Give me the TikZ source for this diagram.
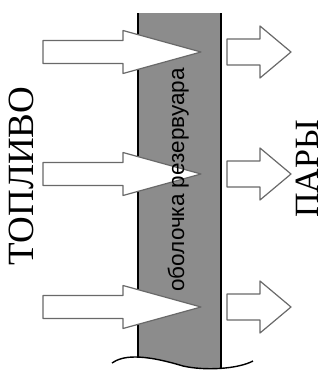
\documentclass[tikz,border=0pt]{standalone}
\usepackage{fontspec}
\setmainfont{Liberation Serif}
\setsansfont{Liberation Sans}
\usetikzlibrary{positioning}
\definecolor{wallgray}{RGB}{140,140,140}
\definecolor{arrowgray}{RGB}{105,105,105}

\begin{document}
\begin{tikzpicture}[x=1pt, y=-1pt, line join=round,
  wall/.style={fill=wallgray},
  wallline/.style={line width=1.4pt, black},
  bigarrow/.style={draw=arrowgray, fill=white, line width=1.2pt},
  smallarrow/.style={draw=arrowgray, fill=white, line width=1.2pt},
  label/.style={rotate=90, anchor=base, inner sep=0pt}]
\useasboundingbox (0,0) rectangle (327,370);
%
\begin{scope}
\clip (100,0) -- (100,363) -- (112,363) .. controls (122,356) and (140,353) .. (183,366)
  .. controls (205,371) and (238,369) .. (253,361) -- (260,361) -- (260,0) -- cycle;
\fill[wall] (138,13) rectangle (221,372);
\draw[wallline] (138,13) -- (138,372);
\draw[wallline] (221,13) -- (221,372);
\end{scope}
\draw[line width=1.4pt] (112,363) .. controls (122,356) and (140,353) .. (183,366)
  .. controls (205,371) and (238,369) .. (253,361);
%
\foreach \y in {52,174,307} {
  \draw[bigarrow] (43,\y-11.5) -- (123,\y-11.5) -- (123,\y-21.5) -- (201,\y)
    -- (123,\y+21.5) -- (123,\y+11.5) -- (43,\y+11.5) -- cycle;
  \draw[smallarrow] (227,\y-13) -- (260,\y-13) -- (260,\y-26) -- (291,\y)
    -- (260,\y+26) -- (260,\y+13) -- (227,\y+13) -- cycle;
}
%
\node[label, font=\sffamily\fontsize{22.5}{24}\selectfont] (shell) at (184,180) {оболочка резервуара};
\node[label, font=\fontsize{37}{40}\selectfont] (fuel) at (33,176) {ТОПЛИВО};
\node[label, text depth=0pt, font=\fontsize{34}{38}\selectfont] (vapour) at (318,169) {ПАРЫ};
\end{tikzpicture}
\end{document}
